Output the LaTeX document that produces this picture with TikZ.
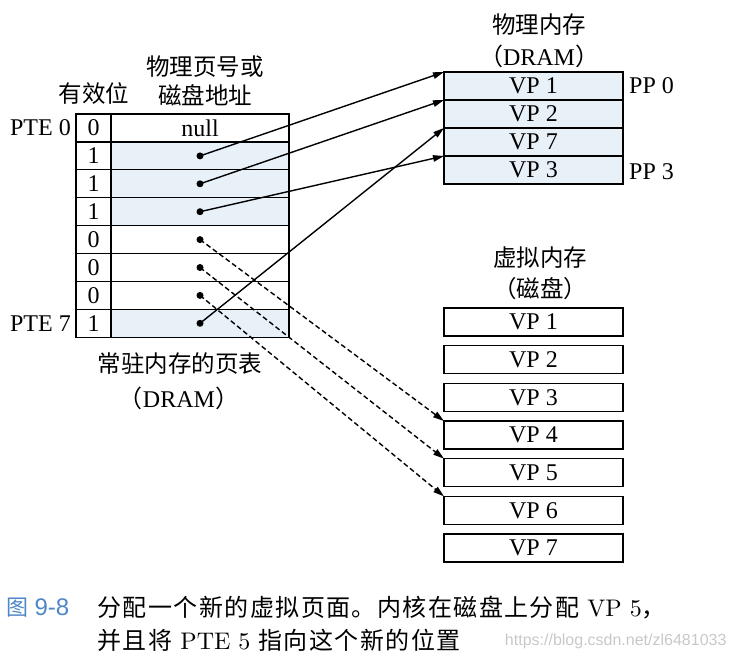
\documentclass[tikz,border=0pt]{standalone}
\usepackage{fontspec}
\setmainfont{Liberation Serif}
\newfontfamily\cjk{Noto Sans CJK SC}
\newfontfamily\capcjk[LetterSpace=6]{Noto Sans CJK SC}
\newfontfamily\caplatin{lmroman10-regular.otf}
\newfontfamily\wmfont{Liberation Sans}
\usetikzlibrary{positioning,arrows.meta}
\definecolor{validfill}{HTML}{E8F0F8}
\definecolor{capblue}{HTML}{4F86C6}
\definecolor{wmgray}{HTML}{C8C8C8}
\tikzset{every node/.style={font=\fontsize{24}{28}\selectfont},
cjktext/.style={font=\cjk\fontsize{23.5}{29}\selectfont},
cell/.style={draw, line width=1.2pt, inner sep=0pt, outer sep=0pt, minimum height=27.9pt},
bitcell/.style={cell, minimum width=35pt},
addrcell/.style={cell, minimum width=178pt},
page/.style={cell, minimum width=179pt, minimum height=28pt},
dot/.style={circle, fill, inner sep=0pt, minimum size=7pt},
ptr/.style={line width=1.4pt, -{Triangle[length=11pt,width=6.5pt]}},
diskptr/.style={ptr, dash pattern=on 5pt off 3pt}
}

\begin{document}
\begin{tikzpicture}[x=1pt, y=-1pt]
      \useasboundingbox (0,0) rectangle (733,662);
      % page table
      \foreach \v/\f [count=\i from 0] in {0/white,1/validfill,1/validfill,1/validfill,0/white,0/white,0/white,1/validfill} {
        \node[bitcell] (b\i) at (93.5, 128+27.9*\i) {\v};
        \node[addrcell, fill=\f, right=0pt of b\i] (a\i) {};
      }
      \node (nul) at (a0.center) {null};
      \foreach \i in {1,...,7}
        \node[dot] (d\i) at (a\i.center) {};
      \node[left=0pt of b0, inner sep=5pt] (pte0) {PTE 0};
      \node[left=0pt of b7, inner sep=5pt] (pte7) {PTE 7};
      \node[cjktext] (validhdr) at (94,94) {有效位};
      \node[cjktext, align=center] (addrhdr) at (205,81) {物理页号或\\磁盘地址};
      \node[cjktext] (tblname) at (180,364) {常驻内存的页表};
      \node (tbldram) at (179,398) {{\cjk （}DRAM{\cjk ）}};

      % physical memory
      \node[cjktext] (physname) at (539,25) {物理内存};
      \node (physdram) at (539,56) {{\cjk （}DRAM{\cjk ）}};
      \foreach \t [count=\i from 0] in {1,2,7,3}
        \node[page, fill=validfill] (pp\i) at (533.5, 86+28*\i) {VP \t};
      \node[right=0pt of pp0, inner sep=6pt] (pp0lbl) {PP 0};
      \node[right=0pt of pp3, inner sep=6pt, yshift=-2pt] (pp3lbl) {PP 3};

      % virtual memory on disk
      \node[cjktext] (diskname) at (540,258) {虚拟内存};
      \node[cjktext] (diskhdr) at (540,289) {（磁盘）};
      \foreach \i in {1,...,7}
        \node[page] (vp\i) at (533.5, {322+37.67*(\i-1)}) {VP \i};

      \draw[ptr] (d1.center) -- (pp0.north west);
      \draw[ptr] (d2.center) -- (pp1.north west);
      \draw[ptr] (d3.center) -- (pp3.north west);
      \draw[ptr] (d7.center) -- (pp2.north west);
      \foreach \i in {4,5,6}
        \draw[diskptr] (d\i.center) -- (vp\i.north west);

      % caption
      \node[anchor=west, text=capblue] (fignum) at (3,608) {{\cjk\fontsize{22}{26}\selectfont 图} {\wmfont 9-8}};
      \node[anchor=west, font=\caplatin\fontsize{24}{28}\selectfont] (capline1) at (94,608)
        {{\capcjk 分配一个新的虚拟页面。内核在磁盘上分配} VP 5{\capcjk ，}};
      \node[anchor=west, font=\caplatin\fontsize{24}{28}\selectfont] (capline2) at (94,640)
        {{\capcjk 并且将} PTE 5 {\capcjk 指向这个新的位置}};
      \node[anchor=east, text=wmgray, font=\wmfont\fontsize{16}{18}\selectfont] (wmark) at (730,641)
        {https://blog.csdn.net/zl6481033};
\end{tikzpicture}
\end{document}
